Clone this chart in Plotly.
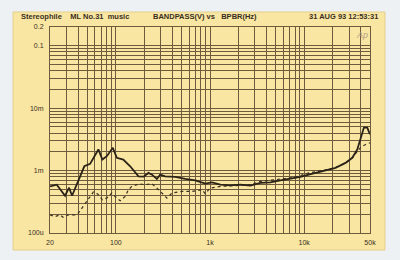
import plotly.graph_objects as go

# Solid trace (frequency Hz, bandpass level V)
solid_freq = [20, 23.6, 28.9, 31.9, 34.3, 40, 46.3, 53.3, 60.2, 65.3, 72, 80.2, 92.9, 102.5,
              120, 142, 174, 197, 222, 242, 273, 296, 334, 428, 546, 698, 891, 1050, 1288,
              1644, 2100, 2686, 3428, 4378, 5594, 7143, 9131, 11194, 15525, 21520, 27480,
              32420, 36640, 39720, 43080, 46780, 50000]
solid_val = [0.000558, 0.000594, 0.000395, 0.000532, 0.000395, 0.000671, 0.001172, 0.001282,
             0.001811, 0.002183, 0.001503, 0.001702, 0.002323, 0.001603, 0.001503, 0.001172,
             0.000809, 0.000800, 0.000918, 0.000861, 0.000734, 0.000861, 0.000809, 0.000791,
             0.000734, 0.000698, 0.000617, 0.000648, 0.000594, 0.000579, 0.000594, 0.000573,
             0.000634, 0.000648, 0.000698, 0.000743, 0.000791, 0.000861, 0.000975, 0.001107,
             0.00133, 0.001603, 0.002183, 0.003162, 0.00489, 0.00489, 0.00381]

# Dotted trace
dot_freq = [20, 22.6, 25.5, 27.5, 31.1, 36.9, 40, 45.2, 51.1, 57.7, 64.3, 72, 80.2, 90.7, 98.3,
            111.2, 125.6, 136.1, 147.9, 174, 204.9, 242, 283.9, 348.8, 394.2, 503.6, 643.6,
            822, 891, 1007, 1288, 1644, 2100, 2686, 3428, 4378, 5594, 7143, 9131, 11194,
            15525, 21520, 27480, 32420, 36640, 39720, 44900, 50000]
dot_val = [0.000195, 0.000183, 0.000195, 0.000179, 0.000195, 0.000195, 0.000208, 0.000266,
           0.00034, 0.000453, 0.000421, 0.00034, 0.000363, 0.000437, 0.000385, 0.000328,
           0.000385, 0.000494, 0.000558, 0.00061, 0.000594, 0.000617, 0.000494, 0.000363,
           0.000437, 0.000464, 0.000464, 0.000494, 0.000426, 0.000526, 0.000558, 0.000573,
           0.000594, 0.000594, 0.000672, 0.000698, 0.000734, 0.000762, 0.00083, 0.000918,
           0.001, 0.001118, 0.00133, 0.001603, 0.002023, 0.002352, 0.002624, 0.002779]

x_labels = {20: "20", 100: "100", 1000: "1k", 10000: "10k", 50000: "50k"}
y_labels = {1e-4: "100u", 1e-3: "1m", 1e-2: "10m", 0.1: "0.1", 0.2: "0.2"}

x_ticks = [m * 10 ** d for d in range(1, 5) for m in range(1, 10) if 20 <= m * 10 ** d <= 50000]
y_ticks = [round(m * 10.0 ** d, 10) for d in range(-4, 0) for m in range(1, 10) if m * 10.0 ** d <= 0.2 + 1e-12]

def lab(v, d):
    for k, t in d.items():
        if abs(v - k) / k < 1e-6:
            return t
    return ""

PANEL = "#f8e6a2"
GRID = "#6e5a3c"
INK = "#3a2e1e"
FONT = "Liberation Sans"

fig = go.Figure()
fig.add_trace(go.Scatter(x=dot_freq, y=dot_val, mode="lines",
                         line=dict(color="#3b3020", width=1.2, dash="dot"), showlegend=False))
fig.add_trace(go.Scatter(x=solid_freq, y=solid_val, mode="lines",
                         line=dict(color="#2b2218", width=1.8), showlegend=False))

W, H = 400, 260
L, R, T, B = 50, 30, 27, 27
pw, ph = W - L - R, H - T - B

def px(xp):
    return (xp - L) / pw

def py(yp):
    return (H - B - yp) / ph

fig.add_shape(type="rect", xref="paper", yref="paper", x0=px(13), x1=px(385), y0=py(250), y1=py(12),
              fillcolor=PANEL, line=dict(color="#e2cf8c", width=1), layer="below")

fig.update_layout(
    width=W, height=H, autosize=False,
    margin=dict(l=L, r=R, t=T, b=B, pad=0),
    paper_bgcolor="#eef1f3", plot_bgcolor=PANEL,
    font=dict(family=FONT, size=7, color=INK),
    xaxis=dict(type="log", range=[1.30103, 4.69897], tickvals=x_ticks,
               ticktext=[lab(v, x_labels) for v in x_ticks], showgrid=True,
               gridcolor=GRID, gridwidth=1, showline=True, linecolor=GRID, mirror=True,
               ticks="", zeroline=False, tickfont=dict(family=FONT, size=7, color=INK),
               ticklabelstandoff=3),
    yaxis=dict(type="log", range=[-4, -0.69897], tickvals=y_ticks,
               ticktext=[lab(v, y_labels) for v in y_ticks], showgrid=True,
               gridcolor=GRID, gridwidth=1, showline=True, linecolor=GRID, mirror=True,
               ticks="", zeroline=False, tickfont=dict(family=FONT, size=7, color=INK),
               ticklabelstandoff=4),
)

ann_font = dict(family=FONT, size=7.5, color=INK)
sp = "&nbsp;"
fig.add_annotation(xref="paper", yref="paper", x=px(19), y=py(16), xanchor="left", yanchor="middle",
                   text="<b>Stereophile" + sp * 4 + "ML" + sp + "No.31" + sp * 2 + "music</b>",
                   showarrow=False, font=ann_font)
fig.add_annotation(xref="paper", yref="paper", x=px(205), y=py(16), xanchor="center", yanchor="middle",
                   text="<b>BANDPASS(V)" + sp + "vs" + sp * 3 + "BPBR(Hz)</b>", showarrow=False, font=ann_font)
fig.add_annotation(xref="paper", yref="paper", x=px(380), y=py(16), xanchor="right", yanchor="middle",
                   text="<b>31 AUG 93 12:53:31</b>", showarrow=False, font=ann_font)
fig.add_annotation(xref="paper", yref="paper", x=px(362), y=py(35), xanchor="center", yanchor="middle",
                   text="<i>Ap</i>", showarrow=False,
                   font=dict(family=FONT, size=9, color="#b59f80"))

fig.write_html("out.html")
